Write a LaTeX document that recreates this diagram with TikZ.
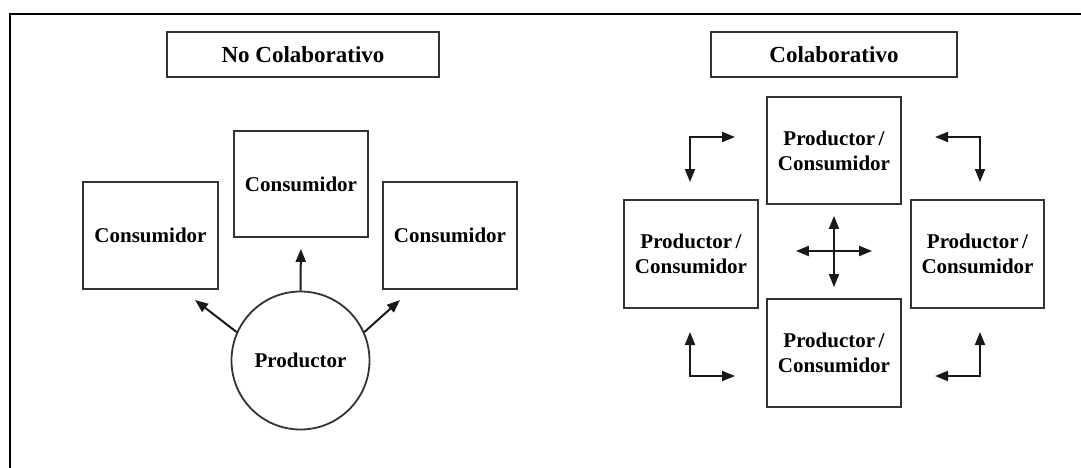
\documentclass[tikz,border=0pt]{standalone}
\usepackage{fontspec}
\setmainfont{Liberation Serif}
\usetikzlibrary{arrows.meta}
\begin{document}
\begin{tikzpicture}[x=1pt,y=-1pt,
  box/.style={draw=black!80, line width=1.8pt, fill=white, inner sep=0pt, align=center,
    font=\fontsize{21}{25}\selectfont\bfseries},
  titlebox/.style={draw=black!80, line width=1.8pt, inner sep=0pt,
    font=\fontsize{23}{27}\selectfont\bfseries},
  circ/.style={draw=black!80, line width=1.8pt, circle, inner sep=0pt, minimum size=138pt,
    font=\fontsize{21}{25}\selectfont\bfseries},
  arr/.style={line width=2pt, black!90, -{Triangle[length=13pt,width=10pt]}},
  dbl/.style={line width=2pt, black!90, {Triangle[length=13pt,width=10pt]}-{Triangle[length=13pt,width=10pt]}}
]
\useasboundingbox (0,0) rectangle (1081,468);
% outer frame (clipped)
\draw[line width=2.5pt, black] (10,468) -- (10,14) -- (1081,14);

% ---------- No Colaborativo ----------
\node[titlebox, minimum width=272pt, minimum height=45pt] (nct) at (303,54.5) {No Colaborativo};
\node[box, minimum width=135pt, minimum height=107pt] (cL) at (150.5,235.5) {Consumidor};
\node[box, minimum width=134pt, minimum height=106pt] (cC) at (301,184) {Consumidor};
\node[box, minimum width=134pt, minimum height=107pt] (cR) at (450,235.5) {Consumidor};
\node[circ] (prod) at (300.5,360.5) {Productor};
\coordinate (tL) at (195,300);
\coordinate (tR) at (400,300);
\draw[arr, shorten >=11pt] (prod.north) -- (cC.south);
\draw[arr] (prod.156) -- (tL);
\draw[arr] (prod.24) -- (tR);

% ---------- Colaborativo ----------
\node[titlebox, minimum width=246pt, minimum height=45pt] (ct) at (834,54.5) {Colaborativo};
\node[box, minimum width=134pt, minimum height=107pt] (pT) at (834,150.5) {Productor\,/\\Consumidor};
\node[box, minimum width=134pt, minimum height=108pt] (pL) at (691,254) {Productor\,/\\Consumidor};
\node[box, minimum width=133pt, minimum height=108pt] (pR) at (977.5,254) {Productor\,/\\Consumidor};
\node[box, minimum width=134pt, minimum height=108pt] (pB) at (834,353) {Productor\,/\\Consumidor};

% central cross
\draw[dbl, shorten >=11pt, shorten <=11pt] (pT.south) -- (pB.north);
\draw[dbl, shorten >=38pt, shorten <=37pt] ([yshift=3pt]pL.east) -- ([yshift=3pt]pR.west);

% corner arrows
\coordinate (aTLc) at (690,137);
\coordinate (aTLr) at (735,137);
\coordinate (aTLd) at (690,182);
\draw[dbl] (aTLd) -- (aTLc) -- (aTLr);

\coordinate (aTRc) at (980,137);
\coordinate (aTRl) at (935,137);
\coordinate (aTRd) at (980,182);
\draw[dbl] (aTRl) -- (aTRc) -- (aTRd);

\coordinate (aBLc) at (690,376);
\coordinate (aBLu) at (690,332);
\coordinate (aBLr) at (735,376);
\draw[dbl] (aBLu) -- (aBLc) -- (aBLr);

\coordinate (aBRc) at (980,376);
\coordinate (aBRu) at (980,332);
\coordinate (aBRl) at (935,376);
\draw[dbl] (aBRl) -- (aBRc) -- (aBRu);
\end{tikzpicture}
\end{document}
